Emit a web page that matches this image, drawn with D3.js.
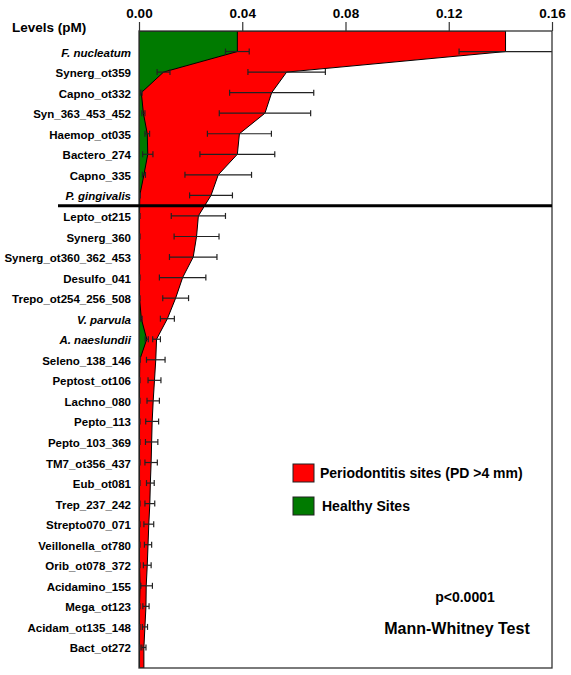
<!DOCTYPE html>
<html><head><meta charset="utf-8">
<script src="https://cdn.jsdelivr.net/npm/d3@7"></script>
<style>
html,body{margin:0;padding:0;background:#fff;}
text{font-family:"Liberation Sans",Arial,Helvetica,sans-serif;font-weight:bold;fill:#000;}
</style></head>
<body>
<svg id="chart" width="571" height="675"></svg>
<script>
const categories = ["F. nucleatum","Synerg_ot359","Capno_ot332","Syn_363_453_452","Haemop_ot035","Bactero_274","Capno_335","P. gingivalis","Lepto_ot215","Synerg_360","Synerg_ot360_362_453","Desulfo_041","Trepo_ot254_256_508","V. parvula","A. naeslundii","Seleno_138_146","Peptost_ot106","Lachno_080","Pepto_113","Pepto_103_369","TM7_ot356_437","Eub_ot081","Trep_237_242","Strepto070_071","Veillonella_ot780","Orib_ot078_372","Acidamino_155","Mega_ot123","Acidam_ot135_148","Bact_ot272"];
const italicCategories = ["F. nucleatum","P. gingivalis","V. parvula","A. naeslundii"];
const periodontitis = [0.1420,0.0572,0.0514,0.0488,0.0389,0.0381,0.0307,0.0279,0.0230,0.0223,0.0210,0.0169,0.0142,0.0110,0.0068,0.0065,0.0060,0.0055,0.0051,0.0049,0.0047,0.0044,0.0042,0.0038,0.0035,0.0032,0.0028,0.0027,0.0023,0.0019];
const periodontitisSE = [0.0180,0.0150,0.0163,0.0177,0.0124,0.0145,0.0129,0.0083,0.0105,0.0087,0.0092,0.0090,0.0050,0.0027,0.0015,0.0036,0.0025,0.0024,0.0025,0.0024,0.0024,0.0015,0.0019,0.0019,0.0014,0.0015,0.0024,0.0012,0.0010,0.0008];
const healthy = [0.0381,0.0095,0.0009,0.0017,0.0032,0.0034,0.0019,0.0003,0.0002,0.0002,0.0002,0.0002,0.0002,0.0009,0.0030,0.0003,0.0002,0.0002,0.0002,0.0002,0.0002,0.0002,0.0002,0.0002,0.0002,0.0002,0.0004,0.0002,0.0002,0.0002];
const healthySE = [0.0046,0.0025,0.0003,0.0006,0.0009,0.0020,0.0006,0.0002,0.0002,0.0002,0.0002,0.0002,0.0002,0.0003,0.0006,0.0002,0.0002,0.0002,0.0002,0.0002,0.0002,0.0002,0.0002,0.0002,0.0002,0.0002,0.0003,0.0002,0.0002,0.0002];
const xTicks = [0, 0.04, 0.08, 0.12, 0.16];
const seriesNames = ["Periodontitis sites (PD >4 mm)", "Healthy Sites"];
const seriesColors = ["#ff0000", "#007a00"];
const axisTitle = "Levels (pM)";
const notes = ["p<0.0001", "Mann-Whitney Test"];
const separatorAfter = "P. gingivalis";

const svg = d3.select("#chart");
const pL = 139, pR = 552, pT = 31, pB = 668;

const x = d3.scaleLinear().domain([0, 0.16]).range([pL, pR]);
const y = d3.scalePoint().domain(categories).range([pT, pB]).padding(1);

svg.append("defs").append("clipPath").attr("id","plotclip")
  .append("rect").attr("x",pL).attr("y",pT).attr("width",pR-pL).attr("height",pB-pT);

function areaPts(vals){
  const pts = vals.map((v,i)=>({v, y: y(categories[i])}));
  pts.unshift({v: vals[0], y: pT});
  pts.push({v: vals[vals.length-1], y: pB});
  return pts;
}
const area = d3.area().y(d=>d.y).x0(x(0)).x1(d=>x(d.v)).curve(d3.curveLinear);

const g = svg.append("g").attr("clip-path","url(#plotclip)");
g.append("path").datum(areaPts(periodontitis)).attr("d",area)
  .attr("fill",seriesColors[0]).attr("stroke","#000").attr("stroke-width",1);
g.append("path").datum(areaPts(healthy)).attr("d",area)
  .attr("fill",seriesColors[1]).attr("stroke","#000").attr("stroke-width",1);

function errBars(vals, se, cls){
  const eb = g.append("g").attr("class",cls).attr("stroke","#222").attr("stroke-width",1.2);
  vals.forEach((v,i)=>{
    const yy = y(categories[i]);
    const lo = x(v - se[i]), hi = x(v + se[i]);
    eb.append("line").attr("x1",lo).attr("x2",Math.min(hi,pR)).attr("y1",yy).attr("y2",yy);
    eb.append("line").attr("x1",lo).attr("x2",lo).attr("y1",yy-3).attr("y2",yy+3);
    if (v + se[i] < 0.159) eb.append("line").attr("x1",hi).attr("x2",hi).attr("y1",yy-3).attr("y2",yy+3);
  });
}
errBars(periodontitis, periodontitisSE, "eb-red");
errBars(healthy, healthySE, "eb-green");

svg.append("rect").attr("x",pL).attr("y",pT).attr("width",pR-pL).attr("height",pB-pT)
  .attr("fill","none").attr("stroke","#333").attr("stroke-width",1.3);

const axis = d3.axisTop(x).tickValues(xTicks).tickFormat(d3.format(".2f")).tickSize(9).tickPadding(4);
const ax = svg.append("g").attr("transform",`translate(0,${pT})`).call(axis);
ax.select(".domain").remove();
ax.selectAll(".tick line").attr("stroke","#333").attr("stroke-width",1.2);
ax.selectAll(".tick text").style("font-size","13.5px").style("font-weight","bold")
  .style("font-family","'Liberation Sans',Arial,sans-serif").attr("fill","#000");

svg.append("text").attr("x",12).attr("y",32).style("font-size","13.5px").text(axisTitle);

const sepIdx = categories.indexOf(separatorAfter);
const sepY = (y(categories[sepIdx]) + y(categories[sepIdx+1]))/2;
svg.append("line").attr("x1",58).attr("x2",pR).attr("y1",sepY).attr("y2",sepY)
  .attr("stroke","#000").attr("stroke-width",3);

svg.append("g").selectAll("text").data(categories).join("text")
  .attr("x",131).attr("y",d=>y(d)+1).attr("dy","0.35em").attr("text-anchor","end")
  .style("font-size","11.5px")
  .style("font-style",d=>italicCategories.includes(d)?"italic":"normal")
  .text(d=>d);

const lg = svg.append("g");
[0,1].forEach(i=>{
  const ly = 464 + i*33;
  lg.append("rect").attr("x",293).attr("y",ly).attr("width",21).attr("height",18)
    .attr("fill",seriesColors[i]).attr("stroke","#222").attr("stroke-width",1);
  lg.append("text").attr("x",320 + i*2).attr("y",ly+9).attr("dy","0.35em")
    .style("font-size","14px").text(seriesNames[i]);
});

svg.append("text").attr("x",465).attr("y",597).attr("dy","0.35em").attr("text-anchor","middle")
  .style("font-size","14px").text(notes[0]);
svg.append("text").attr("x",457).attr("y",628).attr("dy","0.35em").attr("text-anchor","middle")
  .style("font-size","16px").text(notes[1]);
</script>
</body></html>
